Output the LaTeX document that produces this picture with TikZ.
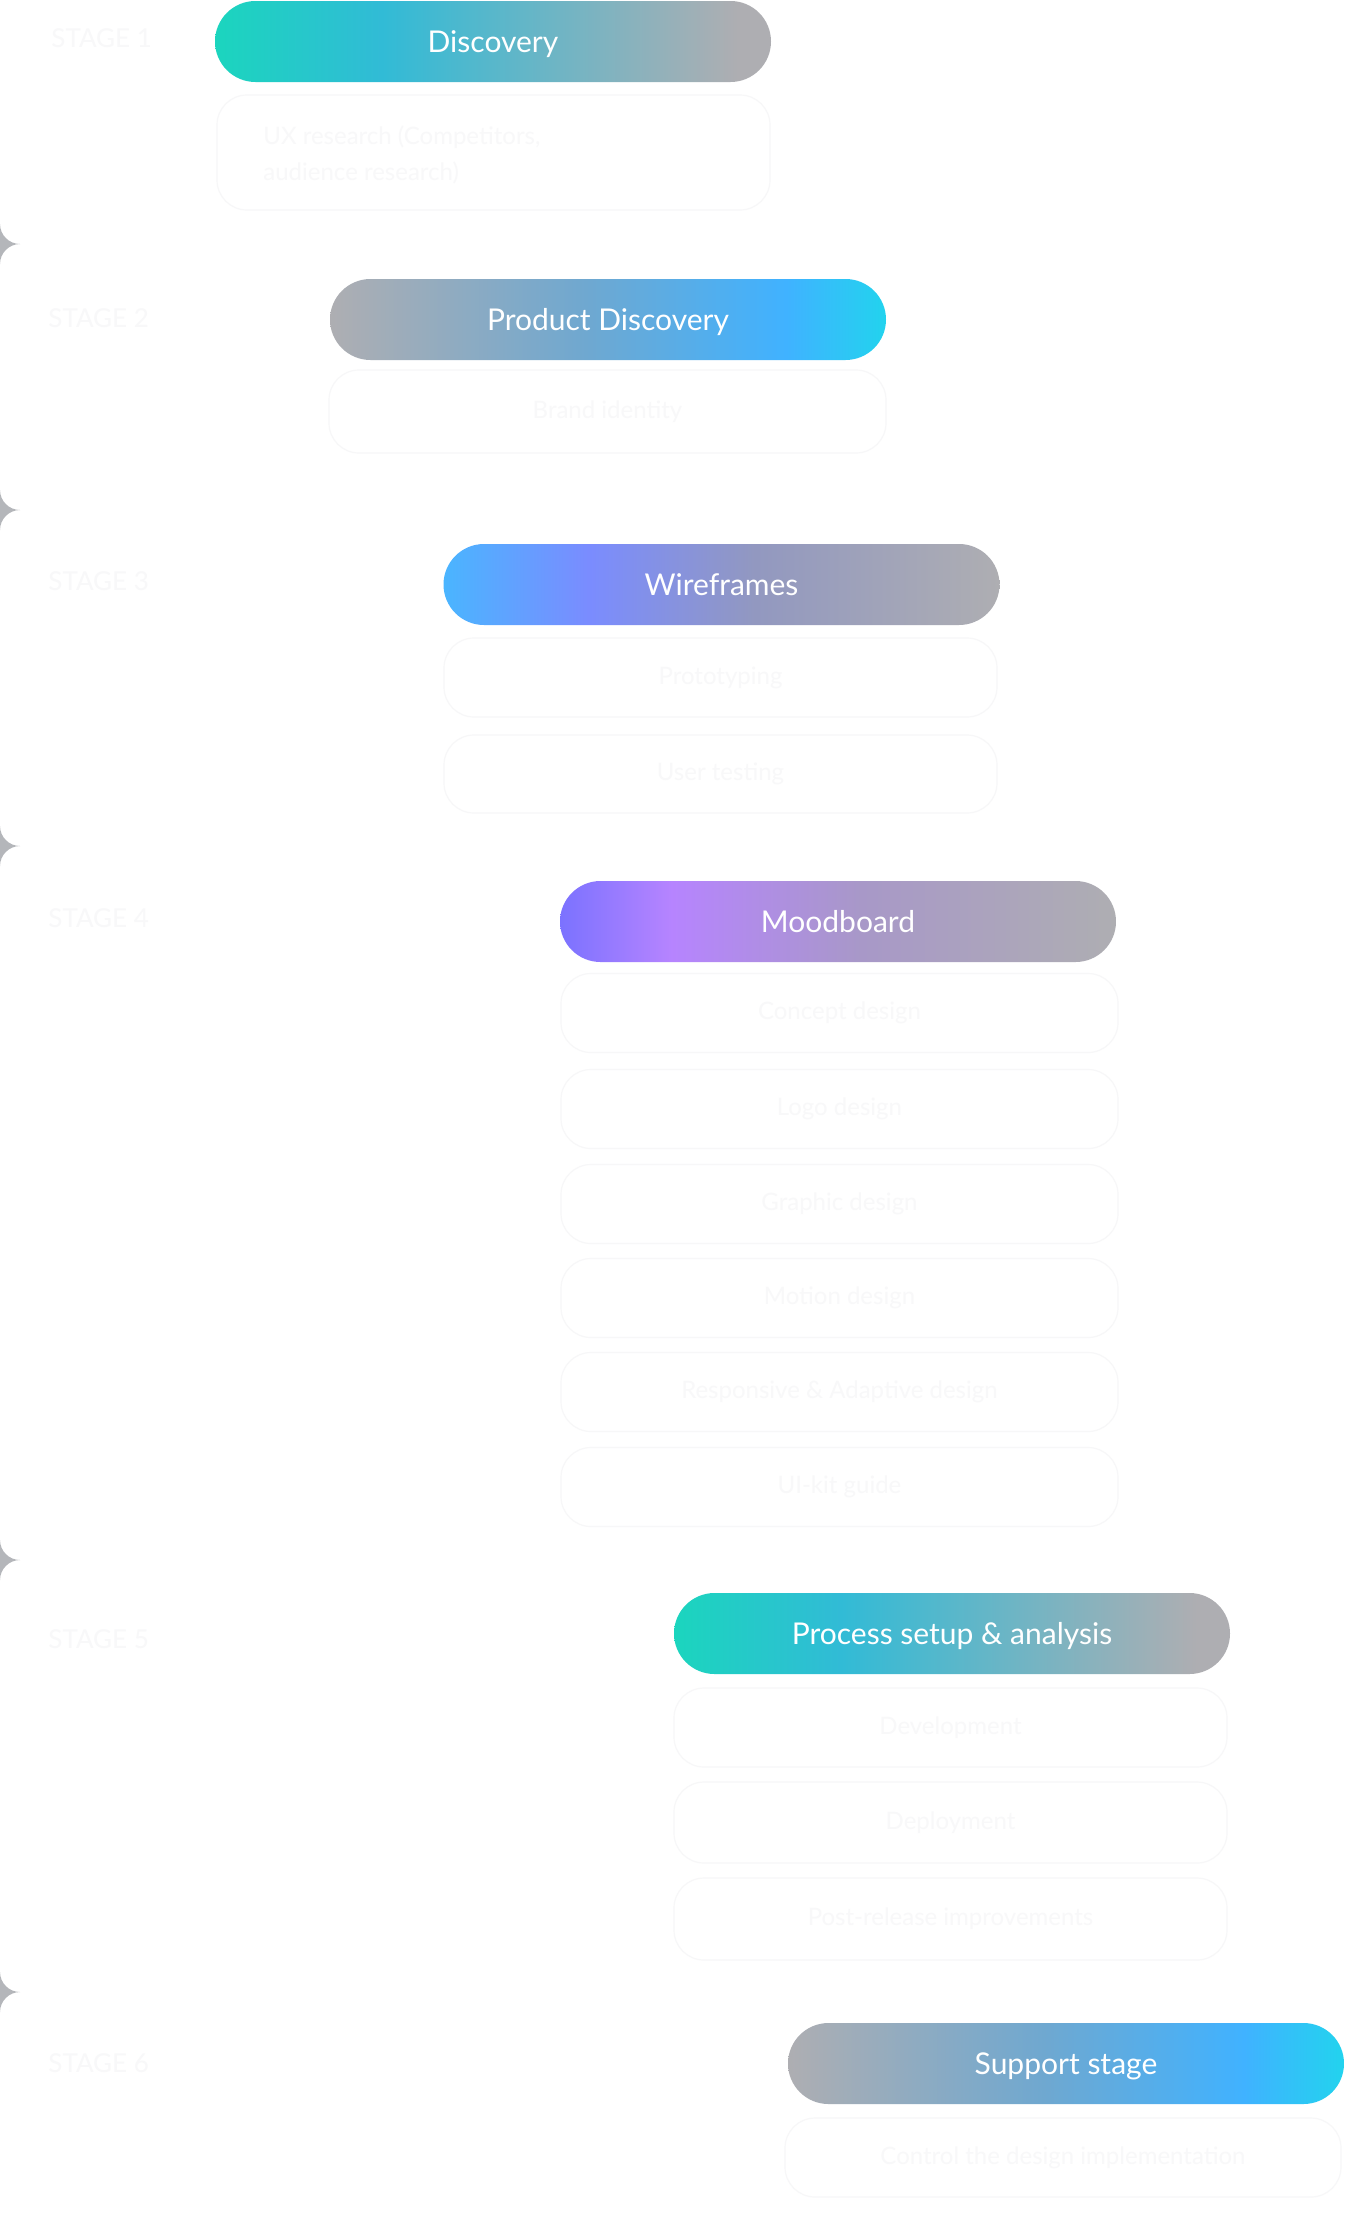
\documentclass[tikz,border=0pt]{standalone}
\usepackage{fontspec}
\setmainfont{Lato}
\usetikzlibrary{positioning}
\definecolor{cuspgray}{RGB}{180,182,186}
\definecolor{faintline}{RGB}{247,247,248}
\definecolor{fainttext}{RGB}{248,248,249}
\definecolor{tealA}{RGB}{27,213,190}
\definecolor{tealB}{RGB}{49,187,214}
\definecolor{grayR}{RGB}{174,174,178}
\definecolor{blueA}{RGB}{64,178,255}
\definecolor{cyanA}{RGB}{34,211,238}
\definecolor{blueM}{RGB}{111,168,208}
\definecolor{wireA}{RGB}{74,181,255}
\definecolor{wireB}{RGB}{122,140,255}
\definecolor{wireC}{RGB}{146,152,192}
\definecolor{moodA}{RGB}{123,114,255}
\definecolor{moodB}{RGB}{182,132,255}
\definecolor{moodC}{RGB}{168,152,200}
\pgfdeclarehorizontalshading{shdisc}{100bp}{color(0bp)=(tealA); color(25bp)=(tealA); color(40bp)=(tealB); color(72bp)=(grayR); color(100bp)=(grayR)}
\pgfdeclarehorizontalshading{shprod}{100bp}{color(0bp)=(grayR); color(25bp)=(grayR); color(48bp)=(blueM); color(66bp)=(blueA); color(75bp)=(cyanA); color(100bp)=(cyanA)}
\pgfdeclarehorizontalshading{shwire}{100bp}{color(0bp)=(wireA); color(25bp)=(wireA); color(38bp)=(wireB); color(53bp)=(wireC); color(75bp)=(grayR); color(100bp)=(grayR)}
\pgfdeclarehorizontalshading{shmood}{100bp}{color(0bp)=(moodA); color(25bp)=(moodA); color(35bp)=(moodB); color(52bp)=(moodC); color(75bp)=(grayR); color(100bp)=(grayR)}
\tikzset{
  pill/.style={rectangle, rounded corners=20.25pt, minimum width=278pt, minimum height=40.5pt, inner sep=0pt, text=white, text height=10.6pt, text depth=0pt, font=\fontsize{15}{17}\selectfont},
  itembox/.style={rectangle, rounded corners=15pt, draw=faintline, line width=0.6pt, fill=white, inner sep=0pt, text=fainttext, font=\fontsize{12}{14}\selectfont},
  stagelbl/.style={anchor=west, inner sep=0pt, text=fainttext, font=\fontsize{13}{15}\selectfont},
  cusp/.style={fill=cuspgray, draw=none}
}
\begin{document}
\begin{tikzpicture}[x=0.5pt,y=-0.5pt]
\useasboundingbox (0,0) rectangle (1344,2222);
\fill[white] (0,0) rectangle (1344,2222);
% cusps between stage cards on the left edge
\foreach \cy in {244,510,846,1560,1992}{
  \fill[cusp] (0,\cy-20) .. controls (0,\cy-9) and (9,\cy) .. (20,\cy) .. controls (9,\cy) and (0,\cy+9) .. (0,\cy+20) -- cycle;
}
% stage labels (almost invisible)
\node[stagelbl] (st1) at (51,38) {STAGE 1};
\node[stagelbl] (st2) at (48,318) {STAGE 2};
\node[stagelbl] (st3) at (48,581) {STAGE 3};
\node[stagelbl] (st4) at (48,918) {STAGE 4};
\node[stagelbl] (st5) at (48,1639) {STAGE 5};
\node[stagelbl] (st6) at (48,2063) {STAGE 6};
% stage pills
\node[pill, shading=shdisc] (disc) at (493,41.5) {Discovery};
\node[pill, shading=shprod] (prod) at (608,319.5) {Product Discovery};
\node[pill, shading=shwire] (wire) at (721.5,584.5) {Wireframes};
\node[pill, shading=shmood] (mood) at (838,921.5) {Moodboard};
\node[pill, shading=shdisc] (proc) at (952,1633.5) {Process setup \& analysis};
\node[pill, shading=shprod] (supp) at (1066,2063.5) {Support stage};
% items
\node[itembox, minimum width=276.5pt, minimum height=57.5pt] (d1) at (493.5,152.5) {};
\node[anchor=west, inner sep=0pt, align=left, text=fainttext, font=\fontsize{12}{18}\selectfont] (d1t) at (263,155) {UX research (Competitors,\\audience research)};
\node[itembox, minimum width=278.5pt, minimum height=41.5pt] (p1) at (607.5,411.5) {Brand identity};
\node[itembox, minimum width=276.5pt, minimum height=39.5pt] (w1) at (720.5,677.5) {Prototyping};
\node[itembox, minimum width=276.5pt, minimum height=39pt] (w2) at (720.5,774) {User testing};
\foreach \nm/\yy/\tx in {m1/1013/Concept design, m2/1109/Logo design, m3/1204/Graphic design, m4/1298/Motion design, m5/1392/Responsive \& Adaptive design, m6/1487/UI-kit guide}{
  \node[itembox, minimum width=278.5pt, minimum height=39.5pt] (\nm) at (839.5,\yy) {\tx};
}
\node[itembox, minimum width=276.5pt, minimum height=39.5pt] (c1) at (950.5,1727.5) {Development};
\node[itembox, minimum width=276.5pt, minimum height=40.5pt] (c2) at (950.5,1822.5) {Deployment};
\node[itembox, minimum width=276.5pt, minimum height=41pt] (c3) at (950.5,1919) {Post-release improvements};
\node[itembox, minimum width=278pt, minimum height=39.5pt] (s1) at (1063,2157.5) {Control the design implementation};
\end{tikzpicture}
\end{document}
